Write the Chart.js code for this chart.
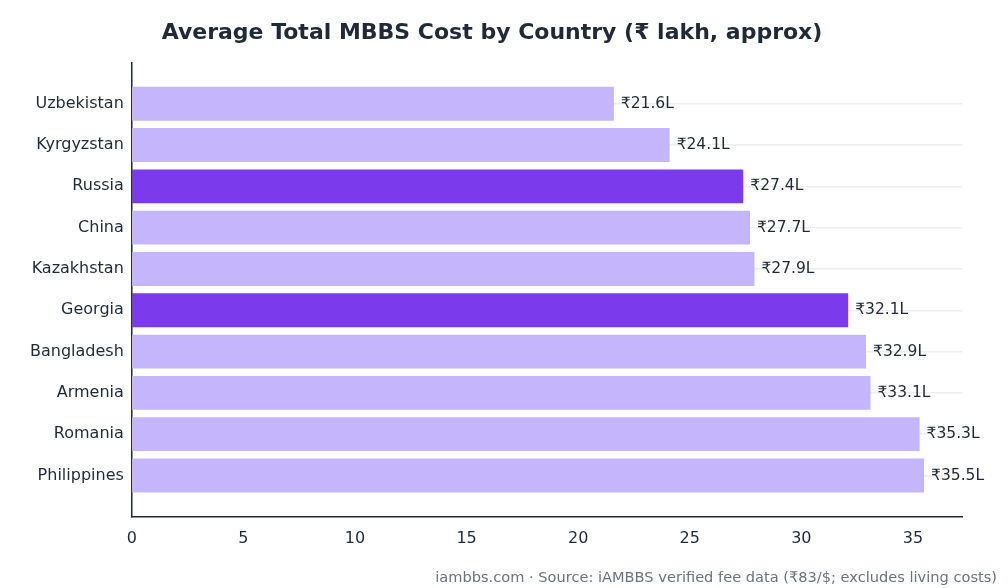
<!DOCTYPE html>
<html>
<head>
<meta charset="utf-8">
<script src="https://cdn.jsdelivr.net/npm/chart.js@4"></script>
<style>
  html, body { margin: 0; padding: 0; background: #fff; }
  #wrap { width: 1008px; height: 588px; position: relative; }
</style>
</head>
<body>
<div id="wrap"><canvas id="costChart"></canvas></div>
<script>
var countries = ["Uzbekistan", "Kyrgyzstan", "Russia", "China", "Kazakhstan", "Georgia", "Bangladesh", "Armenia", "Romania", "Philippines"];
var costs = [21.6, 24.1, 27.4, 27.7, 27.9, 32.1, 32.9, 33.1, 35.3, 35.5];
var highlighted = ["Russia", "Georgia"];
var xTicks = [0, 5, 10, 15, 20, 25, 30, 35];

var barColors = countries.map(function(c) {
    return highlighted.indexOf(c) >= 0 ? "#7c3aed" : "#c4b5fd";
});

// extra half-category of space above and below the bars
var yPadding = {
    id: "yPadding",
    afterLayout: function(chart) {
        var y = chart.scales.y;
        y._startValue = -1;
        y._valueRange = countries.length + 1;
    }
};

// value labels at the end of each bar
var valueLabels = {
    id: "valueLabels",
    afterDatasetsDraw: function(chart) {
        var ctx = chart.ctx;
        var meta = chart.getDatasetMeta(0);
        ctx.save();
        ctx.font = "15.5px 'DejaVu Sans'";
        ctx.fillStyle = "#1f2937";
        ctx.textBaseline = "middle";
        meta.data.forEach(function(bar, i) {
            ctx.fillText("₹" + costs[i].toFixed(1) + "L", bar.x + 7, bar.y);
        });
        ctx.restore();
    }
};

// footer note in the bottom right
var footNote = {
    id: "footNote",
    afterDraw: function(chart) {
        var ctx = chart.ctx;
        ctx.save();
        ctx.font = "14.6px 'DejaVu Sans'";
        ctx.fillStyle = "#6b7280";
        ctx.textAlign = "right";
        ctx.textBaseline = "alphabetic";
        ctx.fillText("iambbs.com · Source: iAMBBS verified fee data (₹83/$; excludes living costs)", 997, 582);
        ctx.restore();
    }
};

new Chart(document.getElementById("costChart"), {
    type: "bar",
    data: {
        labels: countries,
        datasets: [{
            data: costs,
            backgroundColor: barColors,
            barPercentage: 0.82,
            categoryPercentage: 1.0
        }]
    },
    options: {
        indexAxis: "y",
        responsive: true,
        maintainAspectRatio: false,
        animation: false,
        layout: { padding: { top: 6, right: 46, bottom: 36, left: 22 } },
        plugins: {
            legend: { display: false },
            tooltip: { enabled: false },
            title: {
                display: true,
                text: "Average Total MBBS Cost by Country (₹ lakh, approx)",
                color: "#1f2937",
                font: { family: "DejaVu Sans", size: 22, weight: "bold" },
                padding: { top: 14, bottom: 16 }
            }
        },
        scales: {
            x: {
                min: 0,
                max: 37.2,
                afterBuildTicks: function(axis) {
                    axis.ticks = xTicks.map(function(v) { return { value: v }; });
                },
                grid: { display: false },
                border: { display: true, color: "#1f2937", width: 1.5 },
                ticks: { color: "#1f2937", font: { family: "DejaVu Sans", size: 16 }, padding: 4 }
            },
            y: {
                offset: true,
                grid: { offset: false, color: "#eeeeee", lineWidth: 1.5, drawTicks: false },
                border: { display: true, color: "#1f2937", width: 1.5 },
                ticks: { color: "#1f2937", font: { family: "DejaVu Sans", size: 16 }, padding: 8 }
            }
        }
    },
    plugins: [yPadding, valueLabels, footNote]
});
</script>
</body>
</html>
